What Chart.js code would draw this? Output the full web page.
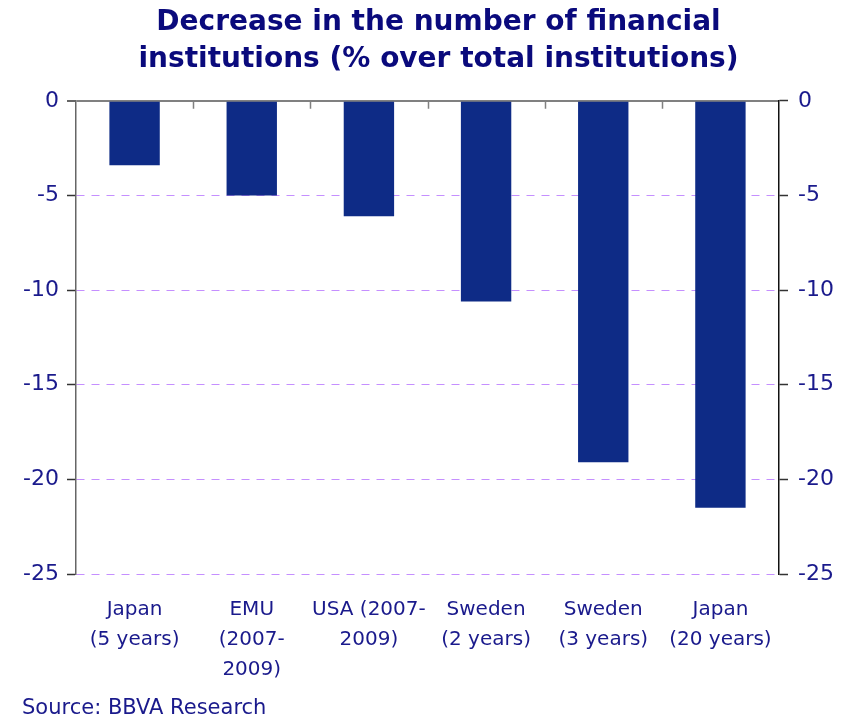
<!DOCTYPE html>
<html>
<head>
<meta charset="utf-8">
<script src="https://cdn.jsdelivr.net/npm/chart.js@4"></script>
<style>
  html, body { margin: 0; padding: 0; background: #fff; }
  #wrap { width: 855px; height: 719px; }
</style>
</head>
<body>
<div id="wrap"><canvas id="myChart" width="855" height="719"></canvas></div>
<script>
// data
const categories = [
  ["Japan", "(5 years)"],
  ["EMU", "(2007-", "2009)"],
  ["USA (2007-", "2009)"],
  ["Sweden", "(2 years)"],
  ["Sweden", "(3 years)"],
  ["Japan", "(20 years)"],
];
const decrease = [-3.4, -5.0, -6.1, -10.6, -19.1, -21.5];
const yTicks = [0, -5, -10, -15, -20, -25];

const navyText = "#1a1a8c";
const barColor = "#0e2b86";
const gridColor = "#c58fff";

// small downward ticks on the zero line, at the category boundaries
const zeroTicks = {
  id: "zeroTicks",
  afterDraw(chart) {
    const x = chart.scales.x;
    const y0 = chart.scales.y.getPixelForValue(0);
    const ctx = chart.ctx;
    const step = (x.right - x.left) / categories.length;
    ctx.save();
    ctx.strokeStyle = "#808080";
    ctx.lineWidth = 1.5;
    ctx.beginPath();
    for (let i = 1; i < categories.length; i++) {
      const px = Math.round(x.left + i * step) + 0.5;
      ctx.moveTo(px, y0);
      ctx.lineTo(px, y0 + 8);
    }
    ctx.stroke();
    ctx.restore();
  },
};

const ctx = document.getElementById("myChart");

new Chart(ctx, {
  type: "bar",
  data: {
    labels: categories,
    datasets: [
      {
        label: "Decrease",
        data: decrease,
        backgroundColor: barColor,
        borderWidth: 0,
        barPercentage: 0.43,
        categoryPercentage: 1,
        yAxisID: "y",
      },
    ],
  },
  options: {
    responsive: false,
    animation: false,
    layout: { padding: { left: 22, right: 0, top: 0, bottom: 0 } },
    plugins: {
      legend: { display: false },
      tooltip: { enabled: false },
      title: {
        display: true,
        text: ["Decrease in the number of financial", "institutions (% over total institutions)"],
        color: "#0a0a7c",
        font: { family: "DejaVu Sans", size: 28, weight: "bold", lineHeight: 1.3 },
        padding: { top: 5, bottom: 23 },
      },
      subtitle: {
        display: true,
        position: "bottom",
        align: "start",
        text: "Source: BBVA Research",
        color: navyText,
        font: { family: "DejaVu Sans", size: 21, lineHeight: 1.0 },
        padding: { top: 0, bottom: 0 },
      },
    },
    scales: {
      x: {
        position: "bottom",
        grid: { display: false },
        border: { display: false },
        ticks: {
          color: navyText,
          font: { family: "DejaVu Sans", size: 20, lineHeight: 1.5 },
          padding: 13,
          maxRotation: 0,
          autoSkip: false,
        },
      },
      y: {
        position: "left",
        min: -25,
        max: 0,
        afterBuildTicks: (scale) => {
          scale.ticks = yTicks.map((v) => ({ value: v }));
        },
        afterFit: (scale) => {
          scale.width = 54;
        },
        grid: {
          color: (c) => (c.tick && c.tick.value === 0 ? "#808080" : gridColor),
          lineWidth: (c) => (c.tick && c.tick.value === 0 ? 2 : 1),
          tickColor: "#333",
          tickLength: 9,
          tickWidth: 1.5,
        },
        border: {
          display: true,
          color: "#666",
          width: 1.5,
          dash: (c) => (c.tick && c.tick.value === 0 ? [] : [8, 7]),
        },
        ticks: {
          color: navyText,
          font: { family: "DejaVu Sans", size: 22 },
          padding: 8,
        },
      },
      y2: {
        position: "right",
        min: -25,
        max: 0,
        afterBuildTicks: (scale) => {
          scale.ticks = yTicks.map((v) => ({ value: v }));
        },
        afterFit: (scale) => {
          scale.width = 76;
        },
        grid: {
          drawOnChartArea: false,
          tickColor: "#333",
          tickLength: 9,
          tickWidth: 1.5,
        },
        border: { display: true, color: "#111", width: 1.5 },
        ticks: {
          color: navyText,
          font: { family: "DejaVu Sans", size: 22 },
          padding: 10,
        },
      },
    },
  },
  plugins: [zeroTicks],
});
</script>
</body>
</html>
